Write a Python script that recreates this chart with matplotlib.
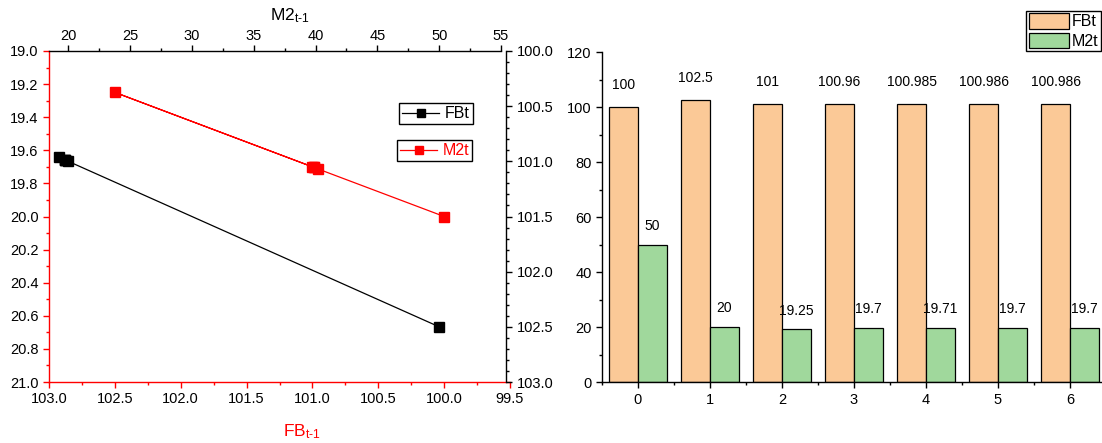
import matplotlib
matplotlib.use("Agg")
import matplotlib.pyplot as plt
from matplotlib.ticker import MultipleLocator, FormatStrFormatter
from matplotlib.patches import Patch
from matplotlib.lines import Line2D

plt.rcParams['font.family'] = ['Liberation Sans', 'DejaVu Sans']
plt.rcParams['mathtext.fontset'] = 'custom'
plt.rcParams['mathtext.rm'] = 'Liberation Sans'
plt.rcParams['mathtext.it'] = 'Liberation Sans:italic'

# ---------------- data ----------------
periods = [0, 1, 2, 3, 4, 5, 6]
FBt = [100, 102.5, 101, 100.96, 100.985, 100.986, 100.986]
M2t = [50, 20, 19.25, 19.7, 19.71, 19.7, 19.7]
FBt_labels = ["100", "102.5", "101", "100.96", "100.985", "100.986", "100.986"]
M2t_labels = ["50", "20", "19.25", "19.7", "19.71", "19.7", "19.7"]

# phase-plot pairs
FB_lag = FBt[:-1]      # FB_{t-1}
M2_next = M2t[1:]      # M2t
M2_lag = M2t[:-1]      # M2_{t-1}
FB_next = FBt[1:]      # FBt

W, H = 1102, 443
fig = plt.figure(figsize=(W / 100, H / 100), dpi=100)

def fx(px):
    return px / W

def fy(py):
    return 1 - py / H

RED = '#ff0000'
TS = 10.5  # tick label size

# ---------- left panel: layer 1 (bottom x / left y, M2t) ----------
ax1 = fig.add_axes([fx(49), fy(382), fx(510) - fx(49), fy(51) - fy(382)])
ax1.plot(FB_lag, M2_next, color=RED, lw=0.9, marker='s', ms=6.5, zorder=3)
ax1.set_xlim(103.0, 99.5)
ax1.set_ylim(21.0, 19.0)
ax1.xaxis.set_major_locator(MultipleLocator(0.5))
ax1.xaxis.set_minor_locator(MultipleLocator(0.25))
ax1.yaxis.set_major_locator(MultipleLocator(0.2))
ax1.yaxis.set_minor_locator(MultipleLocator(0.1))
ax1.xaxis.set_major_formatter(FormatStrFormatter('%.1f'))
ax1.yaxis.set_major_formatter(FormatStrFormatter('%.1f'))
for s in ['top', 'right']:
    ax1.spines[s].set_visible(False)
for s in ['left', 'bottom']:
    ax1.spines[s].set_color(RED)
    ax1.spines[s].set_linewidth(1.0)
ax1.tick_params(which='both', direction='out', colors=RED, labelcolor='black',
                labelsize=TS, width=1.0)
ax1.tick_params(which='major', length=4)
ax1.tick_params(which='minor', length=2.5)
ax1.set_xlabel('FB$_{\\text{t-1}}$', color=RED, fontsize=12.5, va='center')
ax1.xaxis.set_label_coords((302 - 49) / 461, (382 - 432) / 331)

# ---------- left panel: layer 2 (top x / right y, FBt) ----------
ax2 = fig.add_axes([fx(49), fy(382), fx(501) - fx(49), fy(51) - fy(382)])
ax2.patch.set_visible(False)
ax2.plot(M2_lag, FB_next, color='black', lw=0.9, marker='s', ms=6.5, zorder=3)
ax2.set_xlim(18.44, 55)
ax2.set_ylim(103.0, 100.0)
ax2.xaxis.tick_top()
ax2.yaxis.tick_right()
ax2.xaxis.set_major_locator(MultipleLocator(5))
ax2.xaxis.set_minor_locator(MultipleLocator(2.5))
ax2.yaxis.set_major_locator(MultipleLocator(0.5))
ax2.yaxis.set_minor_locator(MultipleLocator(0.1))
ax2.yaxis.set_major_formatter(FormatStrFormatter('%.1f'))
for s in ['left', 'bottom']:
    ax2.spines[s].set_visible(False)
ax2.spines['right'].set_position(('outward', 3.6))
for s in ['top', 'right']:
    ax2.spines[s].set_linewidth(1.0)
ax2.tick_params(which='both', direction='out', labelsize=TS, width=1.0,
                top=True, right=True, bottom=False, left=False,
                labeltop=True, labelright=True, labelbottom=False, labelleft=False)
ax2.tick_params(which='major', length=4)
ax2.tick_params(which='minor', length=2.5)
ax2.tick_params(axis='x', pad=2)
ax2.xaxis.set_label_position('top')
ax2.set_xlabel('M2$_{\\text{t-1}}$', fontsize=12.5, va='center')
ax2.xaxis.set_label_coords((290 - 49) / 452, (382 - 16) / 331)

# legends for left panel
h_fb = Line2D([], [], color='black', lw=0.9, marker='s', ms=6)
h_m2 = Line2D([], [], color=RED, lw=0.9, marker='s', ms=6)
legkw = dict(fontsize=11.5, frameon=True, fancybox=False, framealpha=1,
             edgecolor='black', handlelength=2.3, handletextpad=0.35,
             borderpad=0.2, borderaxespad=0, loc='upper left',
             bbox_transform=fig.transFigure)
leg1 = ax2.legend([h_fb], ['FBt'], bbox_to_anchor=(fx(399), fy(103)), **legkw)
leg1.get_frame().set_linewidth(1.0)
ax2.add_artist(leg1)
leg2 = ax2.legend([h_m2], ['M2t'], bbox_to_anchor=(fx(397), fy(140)), **legkw)
leg2.get_frame().set_linewidth(1.0)
for t in leg2.get_texts():
    t.set_color(RED)

# ---------- right panel: bar chart ----------
ORANGE = '#fbc997'
GREEN = '#a0d89c'
bw = 0.4
ax3 = fig.add_axes([fx(602), fy(382.3), fx(1106) - fx(602), fy(52) - fy(382.3)])
xs = list(periods)
b1 = ax3.bar([x - bw / 2 for x in xs], FBt, width=bw, color=ORANGE,
             edgecolor='black', linewidth=0.9, label='FBt')
b2 = ax3.bar([x + bw / 2 for x in xs], M2t, width=bw, color=GREEN,
             edgecolor='black', linewidth=0.9, label='M2t')
for rect, lab in zip(b1, FBt_labels):
    ax3.annotate(lab, (rect.get_x() + rect.get_width() / 2, rect.get_height()),
                 xytext=(0, 16), textcoords='offset points', ha='center',
                 va='center', fontsize=10)
for rect, lab in zip(b2, M2t_labels):
    ax3.annotate(lab, (rect.get_x() + rect.get_width() / 2, rect.get_height()),
                 xytext=(0, 13.5), textcoords='offset points', ha='center',
                 va='center', fontsize=10)
ax3.set_xlim(-0.5, 6.5)
ax3.set_ylim(0, 120)
ax3.set_xticks(periods)
ax3.xaxis.set_minor_locator(MultipleLocator(0.5))
ax3.yaxis.set_major_locator(MultipleLocator(20))
ax3.yaxis.set_minor_locator(MultipleLocator(10))
for s in ['top', 'right']:
    ax3.spines[s].set_visible(False)
for s in ['left', 'bottom']:
    ax3.spines[s].set_linewidth(1.0)
ax3.tick_params(which='both', direction='out', labelsize=TS, width=1.0)
ax3.tick_params(which='major', length=4)
ax3.tick_params(which='minor', length=2.5)

leg3 = ax3.legend(handles=[Patch(facecolor=ORANGE, edgecolor='black', lw=0.9),
                           Patch(facecolor=GREEN, edgecolor='black', lw=0.9)],
                  labels=['FBt', 'M2t'], loc='upper right',
                  bbox_to_anchor=(fx(1101), fy(11)), bbox_transform=fig.transFigure,
                  fontsize=11.5, frameon=True, fancybox=False, framealpha=1,
                  edgecolor='black', handlelength=2.5, handleheight=1.1,
                  handletextpad=0.2, labelspacing=0.2, borderpad=0.15,
                  borderaxespad=0)
leg3.get_frame().set_linewidth(1.0)

fig.savefig('out.png', dpi=100)
